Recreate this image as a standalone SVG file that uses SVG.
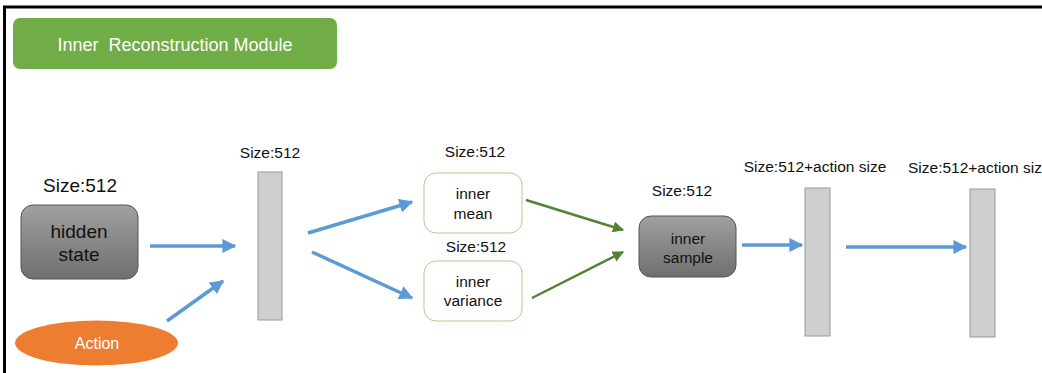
<svg xmlns="http://www.w3.org/2000/svg" width="1042" height="373" viewBox="0 0 1042 373">
<defs>
<linearGradient id="gray" x1="0" y1="0" x2="0" y2="1">
<stop offset="0" stop-color="#a0a0a0"/>
<stop offset="1" stop-color="#6f6f6f"/>
</linearGradient>
<marker id="ab" viewBox="0 0 10 10" refX="9" refY="5" markerWidth="4" markerHeight="4" orient="auto" markerUnits="strokeWidth">
<path d="M0,0 L10,5 L0,10 z" fill="#5B9BD5"/>
</marker>
<marker id="ag" viewBox="0 0 10 10" refX="9" refY="5" markerWidth="4.5" markerHeight="4.5" orient="auto" markerUnits="strokeWidth">
<path d="M0,0 L10,5 L0,10 z" fill="#548235"/>
</marker>
<style>
text{font-family:"Liberation Sans",Arial,sans-serif;fill:#111;text-anchor:middle}
.lbl{font-size:15.5px}
.bar{fill:#d0cfcf;stroke:#999;stroke-width:1}
.dark{fill:url(#gray);stroke:#555;stroke-width:1}
.light{fill:#fff;stroke:#a9d18e;stroke-width:1}
.blue{stroke:#5B9BD5;stroke-width:3.5;fill:none;marker-end:url(#ab)}
.green{stroke:#548235;stroke-width:2.5;fill:none;marker-end:url(#ag)}
</style>
</defs>
<rect x="0" y="0" width="1042" height="373" fill="#fff"/>
<path d="M4.5,373 V7 H1042" fill="none" stroke="#000" stroke-width="3"/>
<g id="header">
<rect x="13" y="18" width="324" height="51" rx="7" fill="#70AD47"/>
<text x="175" y="51" style="font-size:18px;fill:#fff" xml:space="preserve">Inner  Reconstruction Module</text>
</g>
<g id="hidden-state">
<text x="80" y="192" style="font-size:19px">Size:512</text>
<rect class="dark" x="21" y="205" width="117" height="74" rx="12"/>
<text x="79" y="238" style="font-size:19px">hidden</text>
<text x="79" y="261" style="font-size:19px">state</text>
</g>
<g id="action">
<ellipse cx="96.5" cy="343" rx="81.5" ry="22.5" fill="#ED7D31"/>
<text x="97" y="349" style="font-size:16px;fill:#fff">Action</text>
</g>
<g id="bar1">
<text class="lbl" x="270" y="158">Size:512</text>
<rect class="bar" x="258" y="172" width="24" height="148"/>
</g>
<g id="inner-mean">
<text class="lbl" x="475" y="157">Size:512</text>
<rect class="light" x="424" y="173" width="98" height="60" rx="12"/>
<text class="lbl" x="473" y="199">inner</text>
<text class="lbl" x="473" y="219">mean</text>
</g>
<g id="inner-variance">
<text class="lbl" x="476" y="252">Size:512</text>
<rect class="light" x="424" y="261" width="98" height="60" rx="12"/>
<text class="lbl" x="473" y="287">inner</text>
<text class="lbl" x="473" y="306">variance</text>
</g>
<g id="inner-sample">
<text class="lbl" x="682" y="196">Size:512</text>
<rect class="dark" x="639" y="216" width="97" height="61" rx="12"/>
<text class="lbl" x="688" y="244">inner</text>
<text class="lbl" x="688" y="263">sample</text>
</g>
<g id="bar2">
<text class="lbl" x="815" y="172">Size:512+action size</text>
<rect class="bar" x="805" y="188" width="25" height="148"/>
</g>
<g id="bar3">
<text class="lbl" x="908" y="173" style="text-anchor:start">Size:512+action siz</text>
<rect class="bar" x="970" y="189" width="25" height="148"/>
</g>
<g id="connectors">
<line class="blue" x1="150" y1="246" x2="235" y2="246"/>
<line class="blue" x1="167" y1="321" x2="223" y2="281"/>
<line class="blue" x1="308" y1="233" x2="412" y2="202"/>
<line class="blue" x1="312" y1="252" x2="412" y2="298"/>
<line class="green" x1="526" y1="200" x2="623" y2="230"/>
<line class="green" x1="532" y1="298" x2="623" y2="252"/>
<line class="blue" x1="742" y1="245" x2="802" y2="245"/>
<line class="blue" x1="846" y1="247" x2="966" y2="247"/>
</g>
</svg>
